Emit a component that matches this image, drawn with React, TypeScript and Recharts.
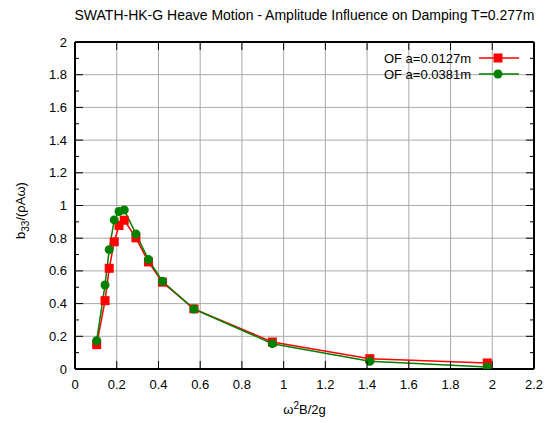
import React from 'react';
import { LineChart, Line, XAxis, YAxis, ReferenceLine, Legend, Label } from 'recharts';

const FONT = '"Liberation Sans", Arial, Helvetica, sans-serif';

const chartTitle = 'SWATH-HK-G Heave Motion - Amplitude Influence on Damping T=0.277m';
const seriesNames = ['OF a=0.0127m', 'OF a=0.0381m'];
const seriesColors = ['#ff0000', '#008000'];

const omegaB2g = [0.104, 0.144, 0.164, 0.188, 0.211, 0.236, 0.292, 0.352, 0.419, 0.57, 0.946, 1.413, 1.976];
const dampingA0127 = [0.149, 0.418, 0.616, 0.778, 0.878, 0.91, 0.802, 0.655, 0.531, 0.368, 0.165, 0.063, 0.037];
const dampingA0381 = [0.173, 0.514, 0.73, 0.912, 0.963, 0.973, 0.826, 0.669, 0.537, 0.367, 0.155, 0.047, 0.012];

const xTicks = [0, 0.2, 0.4, 0.6, 0.8, 1, 1.2, 1.4, 1.6, 1.8, 2, 2.2];
const xGrid = [0.2, 0.4, 0.6, 0.8, 1, 1.2, 1.4, 1.6, 1.8, 2];
const yTicks = [0, 0.1, 0.2, 0.3, 0.4, 0.5, 0.6, 0.7, 0.8, 0.9, 1, 1.1, 1.2, 1.3, 1.4, 1.5, 1.6, 1.7, 1.8, 1.9, 2];
const yGrid = [0.2, 0.4, 0.6, 0.8, 1, 1.2, 1.4, 1.6, 1.8];

const data = omegaB2g.map((x, i) => ({ x, a1: dampingA0127[i], a3: dampingA0381[i] }));

const fmt = (v: number) => String(Math.round(v * 10) / 10);
const isMajor = (v: number) => Math.round(v * 10) % 2 === 0;

const BottomTick = (props: any) => {
  const { x, y, payload } = props;
  return (
    <g>
      <line x1={x} y1={y} x2={x} y2={y - 8} stroke="#000" strokeWidth={1} />
      <text x={x} y={y + 19.5} textAnchor="middle" fontSize={13} fill="#000" fontFamily={FONT}>
        {fmt(payload.value)}
      </text>
    </g>
  );
};

const TopTick = (props: any) => {
  const { x, y } = props;
  return <line x1={x} y1={y} x2={x} y2={y + 8} stroke="#000" strokeWidth={1} />;
};

const LeftTick = (props: any) => {
  const { x, y, payload } = props;
  const major = isMajor(payload.value);
  return (
    <g>
      <line x1={x} y1={y} x2={x + (major ? 8 : 4)} y2={y} stroke="#000" strokeWidth={1} />
      {major && (
        <text x={x - 8} y={y + 4.5} textAnchor="end" fontSize={13} fill="#000" fontFamily={FONT}>
          {fmt(payload.value)}
        </text>
      )}
    </g>
  );
};

const RightTick = (props: any) => {
  const { x, y, payload } = props;
  const major = isMajor(payload.value);
  return <line x1={x} y1={y} x2={x - (major ? 8 : 4)} y2={y} stroke="#000" strokeWidth={1} />;
};

const SquareDot = (props: any) => {
  const { cx, cy } = props;
  if (cx == null || cy == null) return null;
  return <rect x={cx - 4.5} y={cy - 4.5} width={9} height={9} fill={seriesColors[0]} />;
};

const CircleDot = (props: any) => {
  const { cx, cy } = props;
  if (cx == null || cy == null) return null;
  return <circle cx={cx} cy={cy} r={4.5} fill={seriesColors[1]} />;
};

const XLabel = (props: any) => {
  const vb = props.viewBox || { x: 0, y: 0, width: 0 };
  return (
    <text x={vb.x + vb.width / 2} y={vb.y + 45} textAnchor="middle" fontSize={13} fill="#000" fontFamily={FONT}>
      ω<tspan dy={-5} fontSize={10}>2</tspan>
      <tspan dy={5}>B/2g</tspan>
    </text>
  );
};

const YLabel = (props: any) => {
  const vb = props.viewBox || { x: 0, y: 0, height: 0 };
  const cx = 25;
  const cy = vb.y + vb.height / 2 + 5;
  return (
    <text
      x={cx}
      y={cy}
      transform={`rotate(-90 ${cx} ${cy})`}
      textAnchor="middle"
      fontSize={13}
      fill="#000"
      fontFamily={FONT}
    >
      b<tspan dy={4} fontSize={10}>33</tspan>
      <tspan dy={-4}>/(ρAω)</tspan>
    </text>
  );
};

const LegendContent = () => (
  <svg width={200} height={40} style={{ overflow: 'visible' }}>
    {seriesNames.map((name, i) => {
      const cy = 10 + i * 16;
      return (
        <g key={name}>
          <text x={131} y={cy + 4.5} textAnchor="end" fontSize={13} fill="#000" fontFamily={FONT}>
            {name}
          </text>
          <line x1={139} y1={cy} x2={179} y2={cy} stroke={seriesColors[i]} strokeWidth={1.5} />
          {i === 0 ? (
            <rect x={158 - 4.5} y={cy - 4.5} width={9} height={9} fill={seriesColors[0]} />
          ) : (
            <circle cx={158} cy={cy} r={4.5} fill={seriesColors[1]} />
          )}
        </g>
      );
    })}
  </svg>
);

export default function App() {
  return (
    <div style={{ position: 'absolute', left: 0, top: 0, width: 555, height: 423, background: '#fff' }}>
      <svg style={{ position: 'absolute', left: 0, top: 0 }} width={555} height={30}>
        <text x={304.5} y={20} textAnchor="middle" fontSize={14} fill="#000" fontFamily={FONT}>
          {chartTitle}
        </text>
      </svg>
      <LineChart width={555} height={423} data={data} margin={{ top: 41, right: 20, bottom: 24, left: 15 }}>
        {xGrid.map((v) => (
          <ReferenceLine key={'gx' + v} x={v} xAxisId="x" yAxisId="y" stroke="#aaaaaa" strokeWidth={1} />
        ))}
        {yGrid.map((v) => (
          <ReferenceLine key={'gy' + v} y={v} xAxisId="x" yAxisId="y" stroke="#aaaaaa" strokeWidth={1} />
        ))}
        <XAxis
          xAxisId="x"
          dataKey="x"
          type="number"
          domain={[0, 2.2]}
          allowDataOverflow
          ticks={xTicks}
          interval={0}
          orientation="bottom"
          height={30}
          tickSize={0}
          tickMargin={0}
          tickLine={false}
          tick={<BottomTick />}
          axisLine={{ stroke: '#000', strokeWidth: 2 }}
        >
          <Label content={<XLabel />} />
        </XAxis>
        <XAxis
          xAxisId="xt"
          dataKey="x"
          type="number"
          domain={[0, 2.2]}
          allowDataOverflow
          ticks={xTicks}
          interval={0}
          orientation="top"
          height={1}
          tickSize={0}
          tickMargin={0}
          tickLine={false}
          tick={<TopTick />}
          axisLine={{ stroke: '#000', strokeWidth: 2 }}
        />
        <YAxis
          yAxisId="y"
          type="number"
          domain={[0, 2]}
          allowDataOverflow
          ticks={yTicks}
          interval={0}
          orientation="left"
          width={60}
          tickSize={0}
          tickMargin={0}
          tickLine={false}
          tick={<LeftTick />}
          axisLine={{ stroke: '#000', strokeWidth: 2 }}
        >
          <Label content={<YLabel />} />
        </YAxis>
        <YAxis
          yAxisId="yr"
          type="number"
          domain={[0, 2]}
          allowDataOverflow
          ticks={yTicks}
          interval={0}
          orientation="right"
          width={1}
          tickSize={0}
          tickMargin={0}
          tickLine={false}
          tick={<RightTick />}
          axisLine={{ stroke: '#000', strokeWidth: 2 }}
        />
        <Line
          xAxisId="xt"
          yAxisId="yr"
          type="linear"
          dataKey="a1"
          stroke="none"
          strokeOpacity={0}
          dot={false}
          activeDot={false}
          legendType="none"
          isAnimationActive={false}
        />
        <Line
          xAxisId="x"
          yAxisId="y"
          type="linear"
          dataKey="a1"
          name={seriesNames[0]}
          stroke={seriesColors[0]}
          strokeWidth={1.5}
          dot={<SquareDot />}
          activeDot={false}
          isAnimationActive={false}
        />
        <Line
          xAxisId="x"
          yAxisId="y"
          type="linear"
          dataKey="a3"
          name={seriesNames[1]}
          stroke={seriesColors[1]}
          strokeWidth={1.5}
          dot={<CircleDot />}
          activeDot={false}
          isAnimationActive={false}
        />
        <Legend
          layout="horizontal"
          verticalAlign="middle"
          align="center"
          content={<LegendContent />}
          wrapperStyle={{ position: 'absolute', left: 340, top: 48, width: 200, height: 40 }}
        />
      </LineChart>
    </div>
  );
}
